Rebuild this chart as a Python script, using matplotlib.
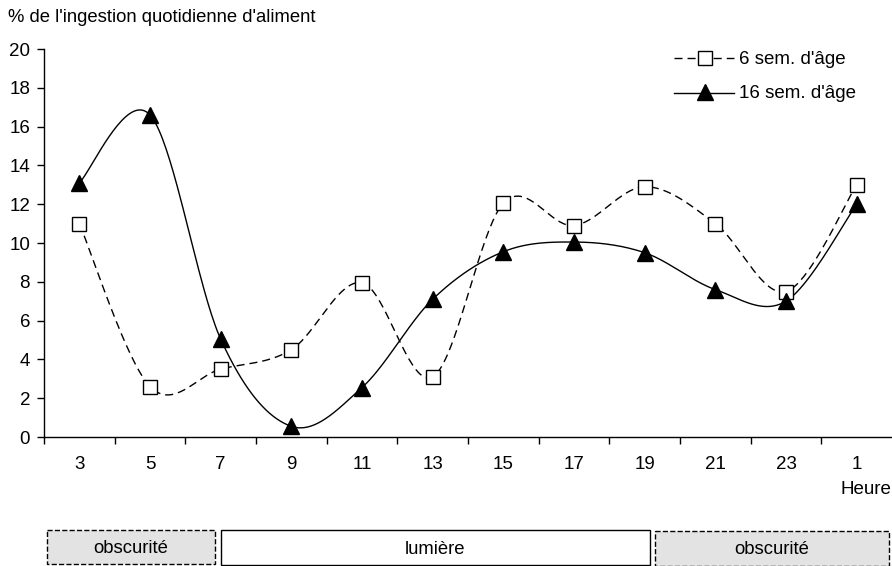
import numpy as np
import matplotlib
matplotlib.use("Agg")
import matplotlib.pyplot as plt
from matplotlib.patches import Rectangle
from matplotlib import font_manager

# Hour labels and the share of daily feed intake (%) at each hour
hours = ["3", "5", "7", "9", "11", "13", "15", "17", "19", "21", "23", "1"]
age_6_weeks = [11.0, 2.6, 3.5, 4.5, 7.95, 3.1, 12.05, 10.9, 12.9, 11.0, 7.5, 13.0]
age_16_weeks = [13.1, 16.6, 5.05, 0.55, 2.55, 7.1, 9.55, 10.05, 9.5, 7.6, 7.0, 12.0]
y_ticks = [0, 2, 4, 6, 8, 10, 12, 14, 16, 18, 20]

W, H, DPI = 892, 566, 100

avail = {f.name for f in font_manager.fontManager.ttflist}
main_font = "Liberation Sans" if "Liberation Sans" in avail else "DejaVu Sans"
plt.rcParams["font.family"] = [main_font, "DejaVu Sans"]

DASH = (0, (5.8, 3.6))


def smooth(xs, ys, n=40):
    """Cubic Bezier pass through every point (Catmull-Rom style tangents)."""
    xs = np.asarray(xs, float)
    ys = np.asarray(ys, float)
    pts = np.column_stack([xs, ys])
    ext = np.vstack([pts[0], pts, pts[-1]])
    out = []
    t = np.linspace(0, 1, n)[:, None]
    for i in range(len(pts) - 1):
        p0, p1, p2, p3 = ext[i], ext[i + 1], ext[i + 2], ext[i + 3]
        c1 = p1 + (p2 - p0) / 6.0
        c2 = p2 - (p3 - p1) / 6.0
        seg = ((1 - t) ** 3) * p1 + 3 * ((1 - t) ** 2) * t * c1 \
            + 3 * (1 - t) * t ** 2 * c2 + t ** 3 * p2
        out.append(seg if i == 0 else seg[1:])
    out = np.vstack(out)
    return out[:, 0], out[:, 1]


def fx(px):
    return px / W


def fy(py):
    return 1 - py / H


fig = plt.figure(figsize=(W / DPI, H / DPI), dpi=DPI)
ax = fig.add_axes([fx(44), fy(437), fx(892) - fx(44), fy(49) - fy(437)])

x = np.arange(len(hours))

sx, sy = smooth(x, age_6_weeks)
ax.plot(sx, sy, color="black", lw=1.0, linestyle=DASH, zorder=2)
ax.plot(x, age_6_weeks, linestyle="none", marker="s", markersize=9.5,
        markerfacecolor="white", markeredgecolor="black", markeredgewidth=1.0, zorder=3)

tx, ty = smooth(x, age_16_weeks)
ax.plot(tx, ty, color="black", lw=1.0, zorder=2)
ax.plot(x, age_16_weeks, linestyle="none", marker="^", markersize=11,
        markerfacecolor="black", markeredgecolor="black", zorder=4)

ax.set_xlim(-0.5, len(hours) - 0.5)
ax.set_ylim(0, 20)
ax.set_yticks(y_ticks)
ax.set_yticklabels([str(v) for v in y_ticks], fontsize=13.5)
ax.tick_params(axis="y", direction="out", length=5, width=1, pad=5)

# category labels centred, tick marks on the boundaries
ax.set_xticks(np.arange(-0.5, len(hours) - 0.5, 1.0))
ax.set_xticklabels([])
ax.tick_params(axis="x", direction="out", length=5, width=1)
for xi, lab in zip(x, hours):
    ax.text(xi, -1.0, lab, ha="center", va="top", fontsize=13.5,
            transform=ax.transData, clip_on=False)

for side in ("top", "right"):
    ax.spines[side].set_visible(False)
ax.spines["left"].set_linewidth(1.0)
ax.spines["bottom"].set_linewidth(1.0)

fig.text(fx(8), fy(18), "% de l'ingestion quotidienne d'aliment",
         fontsize=13.3, ha="left", va="center")
fig.text(fx(891), fy(489), "Heure", fontsize=13.5, ha="right", va="center")

# legend drawn by hand
leg_ax = fig.add_axes([0, 0, 1, 1], facecolor="none")
leg_ax.set_xlim(0, W)
leg_ax.set_ylim(H, 0)
leg_ax.axis("off")
leg_ax.plot([674, 734], [58, 58], color="black", lw=1.0, linestyle=DASH)
leg_ax.plot([705], [58], marker="s", markersize=9.5, markerfacecolor="white",
            markeredgecolor="black", markeredgewidth=1.0, linestyle="none")
leg_ax.text(739, 59, "6 sem. d'âge", fontsize=13.5, ha="left", va="center")
leg_ax.plot([674, 734], [93, 93], color="black", lw=1.0)
leg_ax.plot([705], [92], marker="^", markersize=11, color="black", linestyle="none")
leg_ax.text(739, 94, "16 sem. d'âge", fontsize=13.5, ha="left", va="center")

# light / dark period boxes
boxes = [
    (47, 530, 215, 564, "obscurité", "#e3e3e3", "--"),
    (221, 530, 650, 565, "lumière", "white", "-"),
    (655, 531, 889, 566, "obscurité", "#e3e3e3", "--"),
]
for x0, y0, x1, y1, label, fc, ls in boxes:
    leg_ax.add_patch(Rectangle((x0, y0), x1 - x0, y1 - y0, facecolor=fc,
                               edgecolor="black", lw=1.0, linestyle=ls,
                               clip_on=False))
    leg_ax.text((x0 + x1) / 2, (y0 + y1) / 2 + 1.5, label, fontsize=13.3,
                ha="center", va="center")

fig.savefig("out.png", dpi=DPI)
